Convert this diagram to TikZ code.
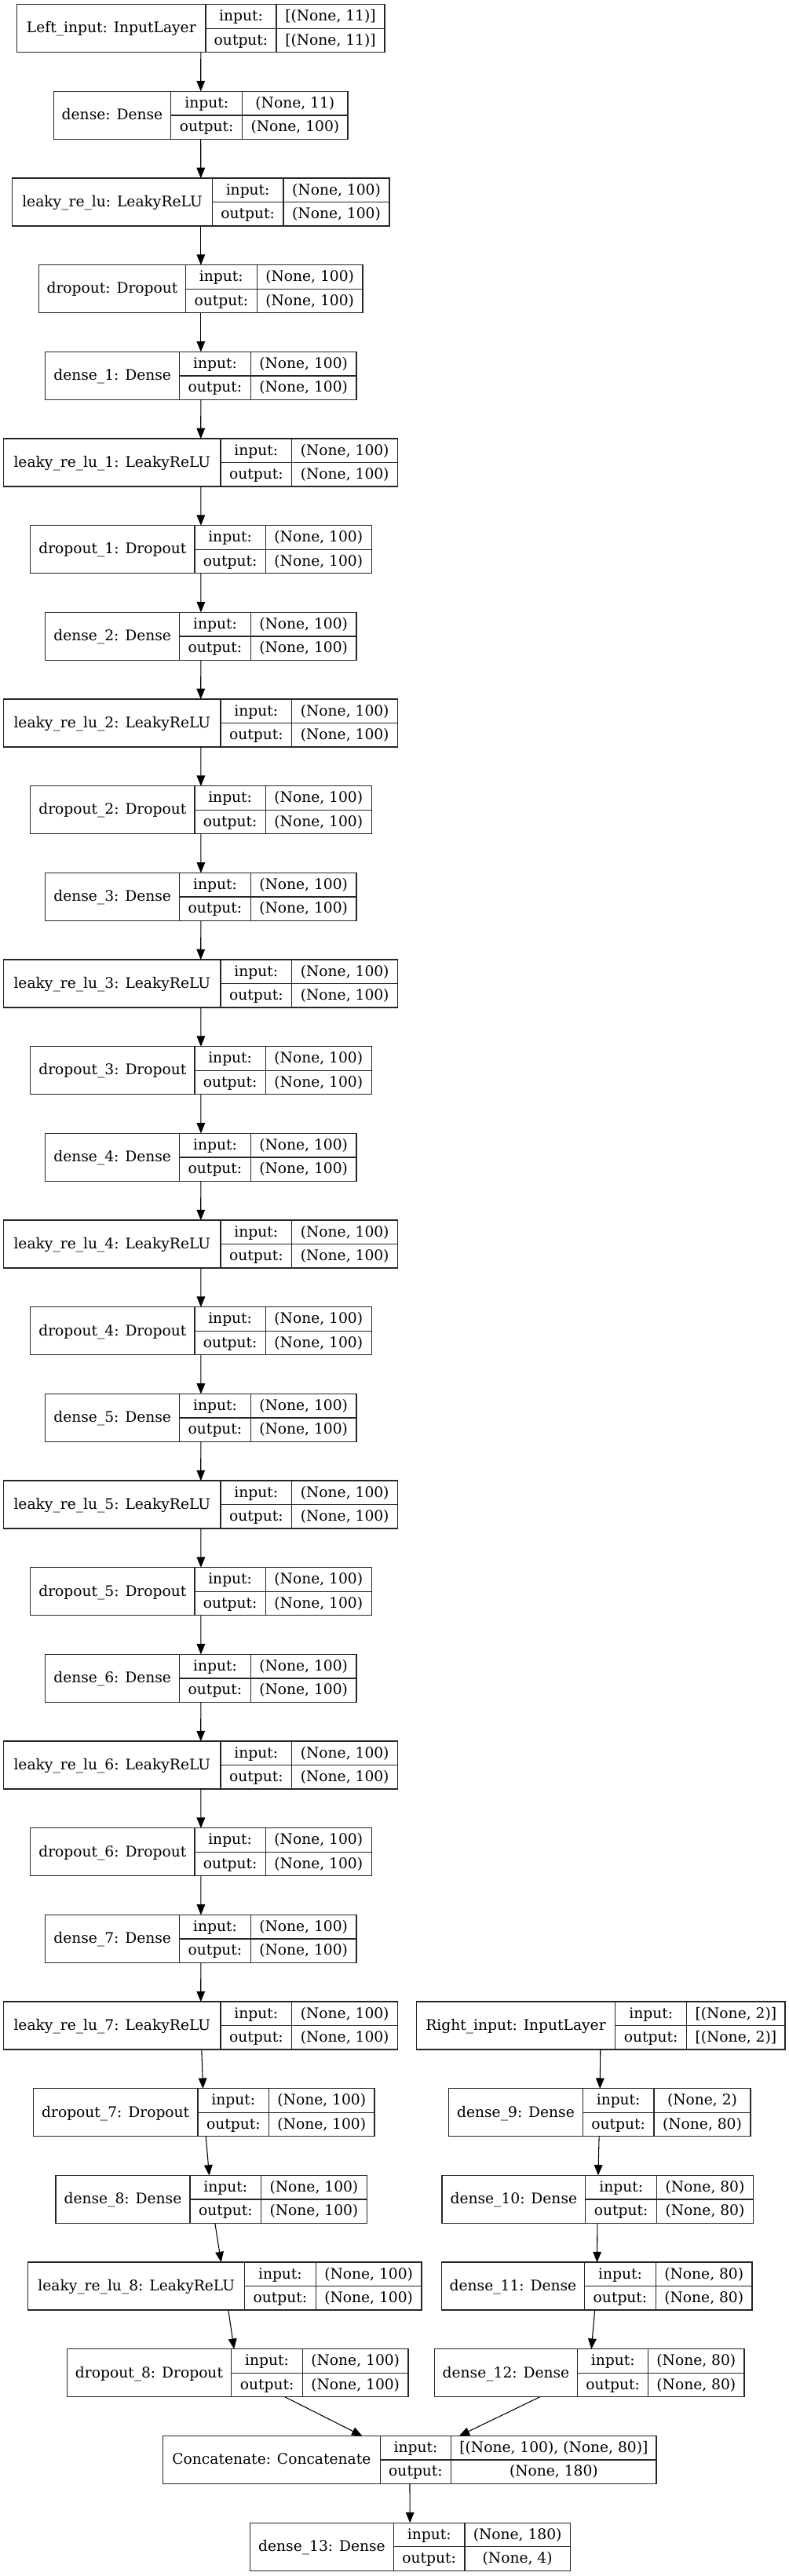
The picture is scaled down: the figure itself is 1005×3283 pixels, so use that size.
\documentclass[tikz,border=0pt]{standalone}
\usepackage{fontspec}
\setmainfont{DejaVu Serif}
\usetikzlibrary{arrows.meta,fit}
\tikzset{
  recbox/.style={draw=black!85, line width=1pt, inner sep=0pt, outer sep=0pt},
  recline/.style={draw=black!85, line width=1pt},
  rectxt/.style={inner sep=0pt, font=\fontsize{14pt}{16pt}\selectfont, text height=12pt, text depth=3.4pt, anchor=center},
  arr/.style={draw=black, line width=0.8pt, -{Triangle[length=10pt,width=8pt]}}
}
\newcommand{\layerrec}[9]{%
  \pgfmathsetmacro{\ytop}{5.7+110.67*#2}%
  \pgfmathsetmacro{\ybot}{\ytop+61}%
  \pgfmathsetmacro{\ymid}{\ytop+30.5}%
  \node[recbox, fit={(#3,\ytop) (#6,\ybot)}] (#1) {};
  \draw[recline] (#4,\ytop) -- (#4,\ybot) (#5,\ytop) -- (#5,\ybot) (#4,\ymid) -- (#6,\ymid);
  \node[rectxt] (#1-name) at ({(#3+#4)/2},\ymid) {#7};
  \node[rectxt] (#1-il) at ({(#4+#5)/2},\ytop+15.25) {input:};
  \node[rectxt] (#1-ol) at ({(#4+#5)/2},\ytop+45.75) {output:};
  \node[rectxt] (#1-iv) at ({(#5+#6)/2},\ytop+15.25) {#8};
  \node[rectxt] (#1-ov) at ({(#5+#6)/2},\ytop+45.75) {#9};
}
\begin{document}
\begin{tikzpicture}[x=0.75pt, y=-0.75pt]
\useasboundingbox[fill=white] (0,0) rectangle (1005,3283);
% left column
\layerrec{r0}{0}{21.7}{262}{352}{490}{Left\_input: InputLayer}{[(None, 11)]}{[(None, 11)]}
\layerrec{r1}{1}{68.3}{217.7}{308.7}{443}{dense: Dense}{(None, 11)}{(None, 100)}
\layerrec{r2}{2}{15.7}{270.3}{361}{496}{leaky\_re\_lu: LeakyReLU}{(None, 100)}{(None, 100)}
\layerrec{r3}{3}{49.7}{236.3}{327.3}{462}{dropout: Dropout}{(None, 100)}{(None, 100)}
\foreach \k in {1,...,7}{
  \pgfmathtruncatemacro{\ra}{3*\k+1}
  \pgfmathtruncatemacro{\rb}{3*\k+2}
  \layerrec{r\ra}{\ra}{57.7}{228.7}{319.3}{454}{dense\_\k: Dense}{(None, 100)}{(None, 100)}
  \layerrec{r\rb}{\rb}{4.7}{281}{371.7}{506.7}{leaky\_re\_lu\_\k: LeakyReLU}{(None, 100)}{(None, 100)}
}
\foreach \k in {1,...,6}{
  \pgfmathtruncatemacro{\rc}{3*\k+3}
  \layerrec{r\rc}{\rc}{38.7}{248}{338.3}{473.3}{dropout\_\k: Dropout}{(None, 100)}{(None, 100)}
}
\layerrec{r24}{24}{42.4}{252}{342.6}{476.9}{dropout\_7: Dropout}{(None, 100)}{(None, 100)}
\layerrec{r25}{25}{70.9}{242.1}{332.6}{467.3}{dense\_8: Dense}{(None, 100)}{(None, 100)}
\layerrec{r26}{26}{35.8}{311.6}{402.2}{537}{leaky\_re\_lu\_8: LeakyReLU}{(None, 100)}{(None, 100)}
\layerrec{r27}{27}{85.2}{294.8}{385.4}{520}{dropout\_8: Dropout}{(None, 100)}{(None, 100)}
\layerrec{r28}{28}{207.6}{484.2}{574.8}{836}{Concatenate: Concatenate}{[(None, 100), (None, 80)]}{(None, 180)}
\layerrec{r29}{29}{318.5}{501.4}{592}{726.3}{dense\_13: Dense}{(None, 180)}{(None, 4)}
% right column
\layerrec{q23}{23}{530.3}{783.7}{874.7}{1000}{Right\_input: InputLayer}{[(None, 2)]}{[(None, 2)]}
\layerrec{q24}{24}{571.7}{742.3}{833}{956}{dense\_9: Dense}{(None, 2)}{(None, 80)}
\layerrec{q25}{25}{563}{745.7}{836.7}{959.3}{dense\_10: Dense}{(None, 80)}{(None, 80)}
\layerrec{q26}{26}{562.5}{744.5}{835.5}{958}{dense\_11: Dense}{(None, 80)}{(None, 80)}
\layerrec{q27}{27}{553.3}{735.7}{825.7}{948}{dense\_12: Dense}{(None, 80)}{(None, 80)}
% connectors
\foreach \i in {0,...,28}{
  \pgfmathtruncatemacro{\j}{\i+1}
  \draw[arr] (r\i) -- (r\j);
}
\foreach \i in {23,...,26}{
  \pgfmathtruncatemacro{\j}{\i+1}
  \draw[arr] (q\i) -- (q\j);
}
\draw[arr] (q27) -- (r28);
\end{tikzpicture}
\end{document}
